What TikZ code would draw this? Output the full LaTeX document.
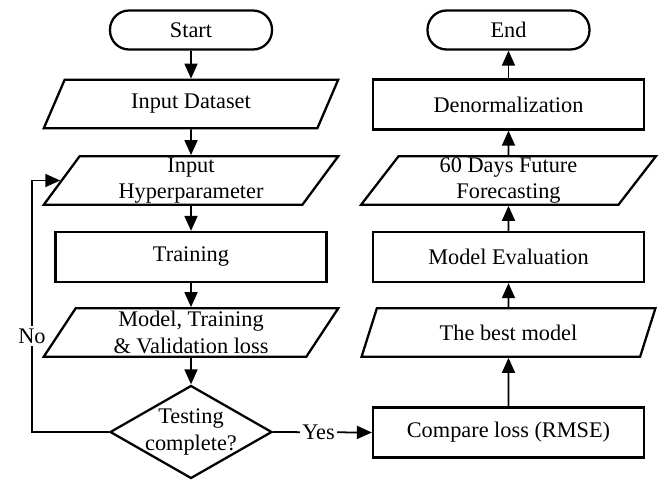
\documentclass[tikz,border=0pt]{standalone}
\usepackage{fontspec}
\setmainfont{Liberation Serif}
\usetikzlibrary{shapes.geometric,arrows.meta}

\begin{document}
\begin{tikzpicture}[x=0.02cm,y=-0.02cm,
    font=\fontsize{12.7}{15}\selectfont,
    every node/.style={inner sep=0pt},
    term/.style={draw,line width=1.3pt,rounded corners=0.38cm,minimum width=3.24cm,minimum height=0.78cm},
    proc/.style={draw,line width=1.3pt,minimum width=5.42cm,minimum height=1cm},
    io/.style={draw,line width=1.3pt,trapezium,trapezium left angle=63,trapezium right angle=117,
        trapezium stretches=true,minimum width=5.9cm,minimum height=0.97cm,align=center},
    decision/.style={draw,line width=1.3pt,diamond,minimum width=3.24cm,minimum height=1.86cm},
    arr/.style={-{Triangle[length=0.3cm,width=0.26cm]},line width=1pt}]
    \useasboundingbox (0,0) rectangle (662,480);

    % left column
    \node[term] (start) at (191,30) {Start};
    \node[io] (dataset) at (191,104) {Input Dataset};
    \node[io] (hyper) at (191,180.5) {Input\\Hyperparameter};
    \node[proc] (train) at (191,257) {Training};
    \node[io] (loss) at (191,332.5) {Model, Training\\\& Validation loss};
    \node[decision,label={[align=center]center:{Testing\\complete?}}] (test) at (191,432) {};

    % right column
    \node[term] (end) at (508.5,30) {End};
    \node[proc] (denorm) at (508.5,104.5) {Denormalization};
    \node[io] (future) at (508.5,180.5) {60 Days Future\\Forecasting};
    \node[proc] (eval) at (508.5,257) {Model Evaluation};
    \node[io] (best) at (508.5,332.5) {The best model};
    \node[proc] (compare) at (508.5,432.5) {Compare loss (RMSE)};

    \draw[arr] (start) -- (dataset);
    \draw[arr] (dataset) -- (hyper);
    \draw[arr] (hyper) -- (train);
    \draw[arr] (train) -- (loss);
    \draw[arr] (loss) -- (test);

    \coordinate (noturn) at (32,432);
    \draw[arr] (test.west) -- (noturn) |- node[pos=0.19,fill=white,inner sep=1.5pt] {No} (hyper.west);
    \draw[arr] (test.east) -- node[pos=0.46,fill=white,inner sep=1.5pt] {Yes} (compare.west);

    \draw[arr] (compare) -- (best);
    \draw[arr] (best) -- (eval);
    \draw[arr] (eval) -- (future);
    \draw[arr] (future) -- (denorm);
    \draw[arr] (denorm) -- (end);
\end{tikzpicture}
\end{document}
